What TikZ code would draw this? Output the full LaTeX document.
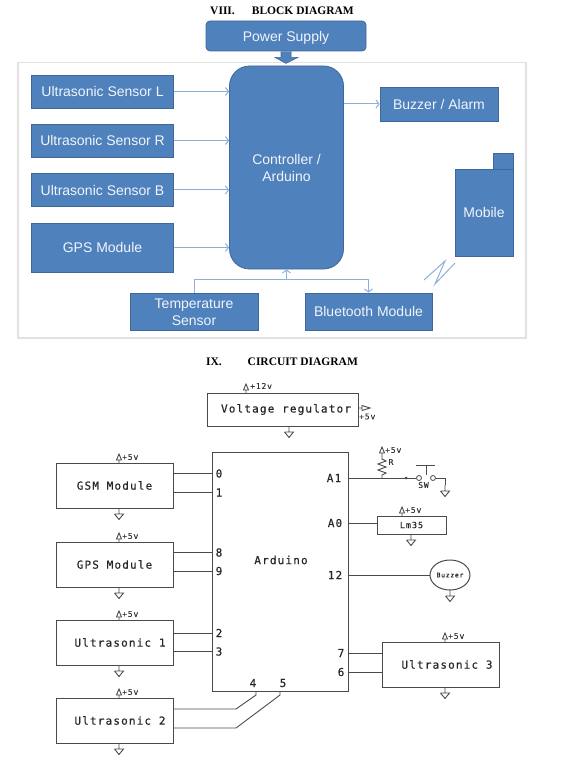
\documentclass[tikz,border=0pt]{standalone}
\usepackage{fontspec}
\usetikzlibrary{arrows.meta,shapes.geometric}
\newfontfamily\blockfont{Liberation Sans}
\newfontfamily\titlefont{Liberation Serif}
\newfontfamily\schfont[LetterSpace=10.5,FakeBold=0.4]{DejaVu Sans Mono}
\definecolor{blockfill}{HTML}{4F81BD}
\definecolor{blockedge}{HTML}{3F689A}
\definecolor{flowline}{HTML}{8DAFDB}
\definecolor{framegray}{HTML}{E2E2E2}
\definecolor{wiregray}{HTML}{4A4A4A}
\tikzset{
  blockbox/.style={draw=blockedge,fill=blockfill,line width=0.8pt,inner sep=0pt,align=center,
    text=white!92!blockfill,font=\blockfont\fontsize{14}{16.5}\selectfont},
  flow/.style={draw=flowline,line width=1pt,-{Straight Barb[length=3pt,width=8pt]}},
  titletext/.style={inner sep=0pt,font=\titlefont\bfseries\fontsize{11.5}{13}\selectfont},
  schbox/.style={draw=wiregray,line width=1pt,inner sep=0pt,text=black!85,
    font=\schfont\fontsize{11}{13}\selectfont},
  wire/.style={draw=wiregray,line width=0.9pt},
  pinlabel/.style={inner sep=0pt,text=black!85,font=\schfont\fontsize{11}{13}\selectfont},
  smalllabel/.style={inner sep=0pt,text=black!80,font=\schfont\fontsize{8}{9}\selectfont},
  swterm/.style={draw=wiregray,circle,line width=0.8pt,inner sep=0pt,minimum size=5pt},
}
\begin{document}
\begin{tikzpicture}[x=1pt,y=-1pt]
    \useasboundingbox (0,0) rectangle (575,759);

    \node[titletext] (title1) at (282,11) {VIII.\hspace{17pt}BLOCK DIAGRAM};
    \node[titletext] (title2) at (282,362) {IX.\hspace{26pt}CIRCUIT DIAGRAM};

    \draw[framegray,line width=1.5pt] (18,62.5) rectangle (526,338);

    \node[blockbox,rounded corners=4pt,text depth=0pt,minimum width=160pt,minimum height=30pt] (power) at (286,36) {Power Supply};
    \node[blockbox,rounded corners=20pt,minimum width=114pt,minimum height=203pt] (ctrl) at (286.5,167.5) {\rule{0pt}{11.5pt}Controller /\\Arduino};
    \node[blockbox,minimum width=142pt,minimum height=33pt] (usl) at (102.5,91.5) {Ultrasonic Sensor L};
    \node[blockbox,minimum width=142pt,minimum height=33pt] (usr) at (102.5,140.5) {Ultrasonic Sensor R};
    \node[blockbox,minimum width=142pt,minimum height=33pt] (usb) at (102.5,190) {Ultrasonic Sensor B};
    \node[blockbox,minimum width=142pt,minimum height=49pt] (gpsb) at (102.5,247.5) {GPS Module};
    \node[blockbox,minimum width=118pt,minimum height=34pt] (buzz) at (439,104) {Buzzer / Alarm};
    \node[blockbox,minimum width=20pt,minimum height=16pt] (tab) at (503,161) {};
    \node[blockbox,minimum width=58pt,minimum height=87pt] (mobile) at (484,212.5) {Mobile};
    \node[blockbox,minimum width=128pt,minimum height=37pt] (temp) at (194,311.5) {\rule{0pt}{11.5pt}Temperature\\Sensor};
    \node[blockbox,minimum width=127pt,minimum height=37pt] (blue) at (368.5,311.5) {Bluetooth Module};

    \draw[draw=blockedge,fill=blockfill,line width=0.6pt] (power.south) +(-5,0) -- +(-5,6) -- +(-11,6) -- +(0,12) -- +(12,6) -- +(5,6) -- +(5,0);

    \foreach \s in {usl,usr,usb,gpsb}
      \draw[flow] (\s.east) -- (\s.east -| ctrl.west);
    \draw[flow] (ctrl.east |- buzz.west) -- (buzz.west);
    \draw[flow] (temp.north) -- ++(0,-13) -| (blue.north);
    \draw[flow] (ctrl.south) ++(0,11) -- (ctrl.south);
    \draw[flowline,line width=1pt] (424,280) -- (445,261) -- (435,284) -- (455,263);

    \node[schbox,minimum width=151pt,minimum height=33pt] (reg) at (282.5,409.5) {\hspace*{7pt}Voltage regulator};
    \node[schbox,minimum width=136pt,minimum height=239pt] (ard) at (280,571.5) {};
    \node[pinlabel] (ardtext) at (281,560) {Arduino};
    \node[schbox,minimum width=117pt,minimum height=45pt] (gsm) at (114.5,485.5) {GSM Module};
    \node[schbox,minimum width=117pt,minimum height=45pt] (gps) at (114.5,564.5) {GPS Module};
    \node[schbox,minimum width=117pt,minimum height=45pt] (us1) at (114.5,642.5) {\hspace*{11pt}Ultrasonic 1};
    \node[schbox,minimum width=117pt,minimum height=45pt] (us2) at (114.5,720.5) {\hspace*{11pt}Ultrasonic 2};
    \node[schbox,minimum width=117pt,minimum height=45pt] (us3) at (440.5,664.5) {\hspace*{13pt}Ultrasonic 3};
    \node[schbox,minimum width=69pt,minimum height=18pt,font=\schfont\fontsize{8.5}{10}\selectfont] (lm) at (411.5,525) {Lm35};
    \node[schbox,ellipse,minimum width=40pt,minimum height=30pt,font=\schfont\fontsize{6.5}{8}\selectfont] (buzzer) at (450,575) {Buzzer};

    \foreach \n/\t/\x/\y in {p0/0/219/473.5,p1/1/219/492.5,p8/8/219/552.5,p9/9/219/571,p2/2/219/633,p3/3/219/651.5,
                             p4/4/253/683,p5/5/283/683,pa1/A1/334/478,pa0/A0/335/523,p12/12/335/575,p7/7/341/653,p6/6/341/672}
      \node[pinlabel] (\n) at (\x,\y) {\t};

    \foreach \m/\p in {gsm/p0,gsm/p1,gps/p8,gps/p9,us1/p2,us1/p3}
      \draw[wire] (\m.east |- \p.west) -- (ard.west |- \p.west);
    \foreach \p in {p7,p6}
      \draw[wire] (ard.east |- \p.east) -- (us3.west |- \p.east);
    \draw[wire] (ard.east |- pa0.east) -- (lm.west |- pa0.east);
    \draw[wire] (ard.east |- p12.east) -- (buzzer.west |- p12.east);

    \coordinate (w4) at (256,691);
    \coordinate (w5) at (280,691);
    \coordinate (b4) at (236,709);
    \coordinate (b5) at (236,728);
    \draw[wire] (w4) -- ++(0,4) -- (b4) -- (b4 -| us2.east);
    \draw[wire] (w5) -- ++(0,4) -- (b5) -- (b5 -| us2.east);

    \foreach \x/\y/\n in {119/463/v1,119/542/v2,119/620/v3,119/698/v4,445/642/v5,402/516/v6,382/456/v7}
      {
      \draw[wire] (\x,\y) -- +(0,-3) +(0,-3) -- +(-2.5,-3) -- +(0,-9) -- +(2.5,-3) -- +(0,-3);
      \node[smalllabel,anchor=west] (\n) at (\x+3,\y-6) {+5v};
      }
    \draw[wire] (246,393) -- +(0,-3) +(0,-3) -- +(-2.5,-3) -- +(0,-9) -- +(2.5,-3) -- +(0,-3);
    \node[smalllabel,anchor=west] (v12) at (250,386) {+12v};

    \foreach \x/\y in {119/508,119/587,119/665,119/743,445/687,411/534,450/590,289/426,445/485}
      \draw[wire] (\x,\y) -- +(0,6) +(-4.5,6) -- +(4.5,6) -- +(0,11.5) -- +(-4.5,6);

    \coordinate (out) at (370,408);
    \draw[wire] (reg.east |- out) -- (362,408) -- (362,405.5) -- (out) -- (362,410.5) -- (362,408);
    \node[smalllabel,anchor=west] (vout) at (359,416.5) {+5v};

    \node[swterm] (swl) at (419,478) {};
    \node[swterm] (swr) at (433,478) {};
    \node[smalllabel] (swlabel) at (423.5,485) {SW};
    \node[smalllabel] (rlabel) at (391,462) {R};
    \coordinate (rtop) at (382,456);
    \coordinate (rbot) at (382,478);
    \draw[wire] (ard.east |- pa1.east) -- (swl);
    \fill[wiregray] (406,478) circle (1.5pt);
    \draw[wire] (rtop) -- (382,459) -- (386,461) -- (378,464) -- (386,467) -- (378,470) -- (386,473) -- (382,475) -- (rbot);
    \draw[wire] (swr) -- (445,478) -- (445,485);
    \draw[wire] (416,465) -- (435,465) (426,465) -- (426,475);
\end{tikzpicture}
\end{document}
